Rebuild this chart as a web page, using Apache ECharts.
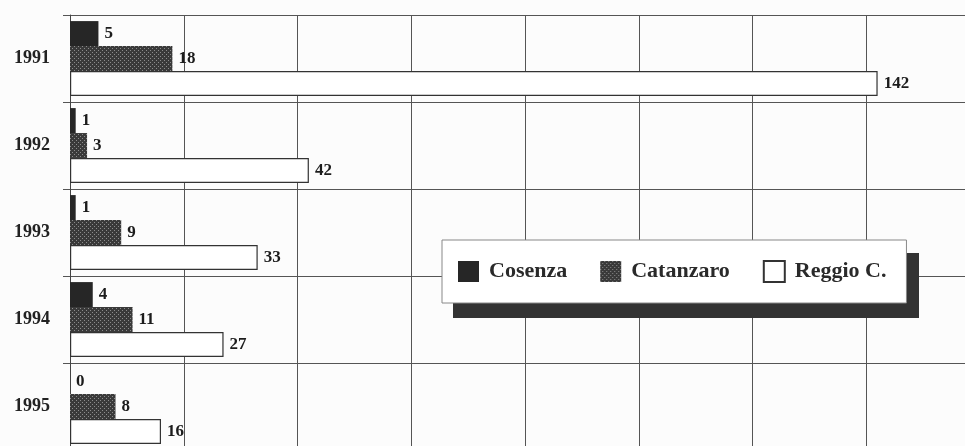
<!DOCTYPE html>
<html><head><meta charset="utf-8">
<script src="https://cdn.jsdelivr.net/npm/echarts@6/dist/echarts.min.js"></script>
<style>html,body{margin:0;padding:0;background:#fcfcfc}#c{width:965px;height:446px}</style>
</head><body><div id="c"></div>
<script>
const years = ['1991', '1992', '1993', '1994', '1995'];
const cosenza = [5, 1, 1, 4, 0];
const catanzaro = [18, 3, 9, 11, 8];
const reggio = [142, 42, 33, 27, 16];
const seriesNames = ['Cosenza', 'Catanzaro', 'Reggio C.'];

function dotPattern() {
  const c = document.createElement('canvas');
  c.width = 4; c.height = 4;
  const x = c.getContext('2d');
  x.fillStyle = '#3a3a3a'; x.fillRect(0, 0, 4, 4);
  x.fillStyle = '#8c8c8c'; x.fillRect(0, 0, 1, 1); x.fillRect(2, 2, 1, 1);
  return c;
}
const pat = { image: dotPattern(), repeat: 'repeat' };
const serif = "'Liberation Serif', 'Times New Roman', serif";
const lbl = { show: true, position: 'right', distance: 6, fontFamily: serif, fontWeight: 'bold', fontSize: 17, color: '#1c1c1c' };

const chart = echarts.init(document.getElementById('c'));
chart.setOption({
  backgroundColor: '#fcfcfc',
  animation: false,
  grid: { left: 70, top: 15, width: 910, height: 435, outerBoundsMode: 'none', containLabel: false },
  xAxis: {
    type: 'value', min: 0, max: 160, interval: 20,
    axisLabel: { show: false }, axisTick: { show: false }, axisLine: { show: false },
    splitLine: { show: true, lineStyle: { color: '#555', width: 1 } }
  },
  yAxis: {
    type: 'category', data: years, inverse: true,
    axisLine: { show: true, lineStyle: { color: '#444', width: 1 } },
    axisTick: { show: true, length: 7, lineStyle: { color: '#555' } },
    splitLine: { show: true, lineStyle: { color: '#555', width: 1 } },
    axisLabel: { margin: 20, fontFamily: serif, fontWeight: 'bold', fontSize: 18, color: '#222' }
  },
  graphic: [{
    type: 'rect', z: 3, silent: true,
    shape: { x: 453, y: 253, width: 466, height: 65 },
    style: { fill: '#333' }
  }],
  legend: {
    data: seriesNames,
    left: 442, top: 240, z: 5,
    padding: [20, 20, 20, 16],
    itemGap: 33, itemWidth: 21, itemHeight: 21, icon: 'rect',
    backgroundColor: '#ffffff', borderColor: '#888', borderWidth: 1,
    textStyle: { fontFamily: serif, fontWeight: 'bold', fontSize: 22, color: '#2a2a2a', padding: [0, 0, 0, 5], lineHeight: 22 }
  },
  series: [
    { name: seriesNames[0], type: 'bar', data: cosenza, barGap: '0%', barCategoryGap: '14%',
      itemStyle: { color: '#262626' }, label: lbl },
    { name: seriesNames[1], type: 'bar', data: catanzaro, barGap: '0%', barCategoryGap: '14%',
      itemStyle: { color: pat }, label: lbl },
    { name: seriesNames[2], type: 'bar', data: reggio, barGap: '0%', barCategoryGap: '14%',
      itemStyle: { color: '#ffffff', borderColor: '#333', borderWidth: 1.2 }, label: lbl }
  ]
});
</script></body></html>
